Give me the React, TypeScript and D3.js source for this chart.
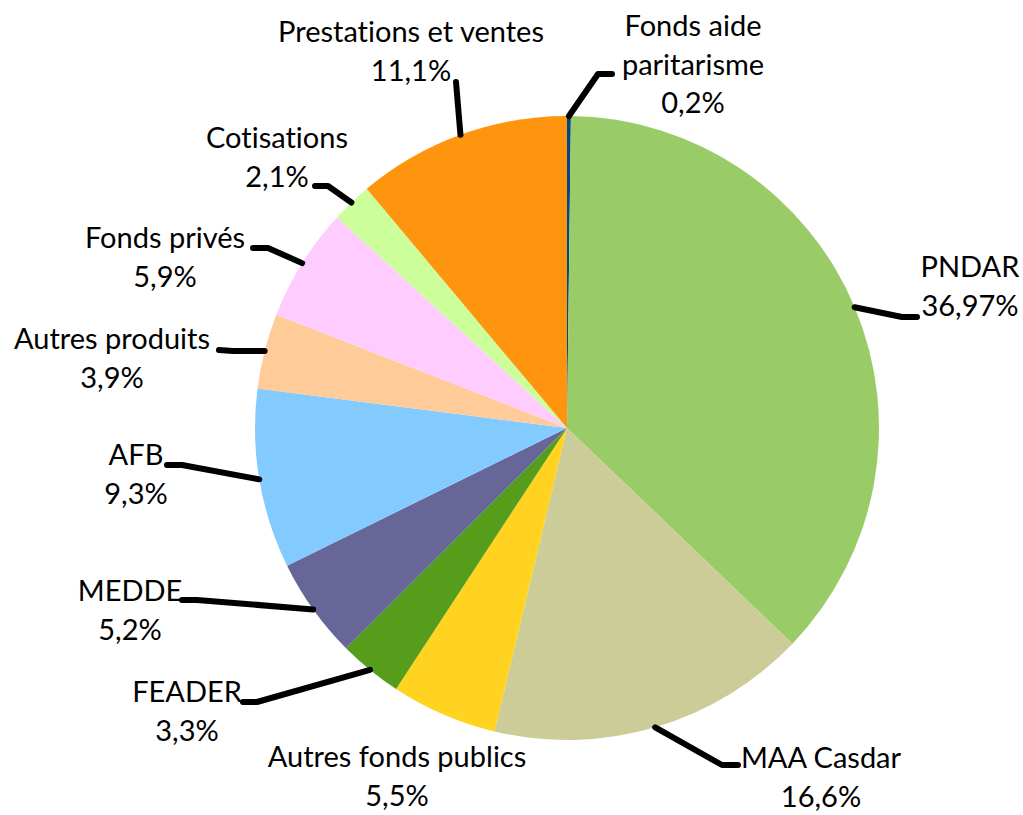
import React, { useEffect, useRef } from "react";
import * as d3 from "d3";

const categories = [
  "Fonds aide paritarisme",
  "PNDAR",
  "MAA Casdar",
  "Autres fonds publics",
  "FEADER",
  "MEDDE",
  "AFB",
  "Autres produits",
  "Fonds privés",
  "Cotisations",
  "Prestations et ventes",
];
const shares = [0.2, 36.97, 16.6, 5.5, 3.3, 5.2, 9.3, 3.9, 5.9, 2.1, 11.1];
const shareLabels = ["0,2%", "36,97%", "16,6%", "5,5%", "3,3%", "5,2%", "9,3%", "3,9%", "5,9%", "2,1%", "11,1%"];
const colors = [
  "#004586", "#99cc66", "#cccc99", "#ffd320", "#579d1c", "#666699",
  "#83caff", "#ffcc99", "#ffccff", "#ccff99", "#ff950e",
];

// label layout: text lines, text center x, first baseline y, leader elbow + end (null = no leader)
const labelLayout: { lines: string[]; x: number; y: number; elbow: [number, number] | null; end: [number, number] | null }[] = [
  { lines: ["Fonds aide", "paritarisme"], x: 693, y: 36, elbow: [598, 74], end: [612, 74] },
  { lines: ["PNDAR"], x: 970, y: 277, elbow: [902, 317], end: [917, 317] },
  { lines: ["MAA Casdar"], x: 821, y: 768, elbow: [722, 765], end: [738, 765] },
  { lines: ["Autres fonds publics"], x: 397, y: 767, elbow: null, end: null },
  { lines: ["FEADER"], x: 187, y: 702, elbow: [257, 702], end: [243, 702] },
  { lines: ["MEDDE"], x: 130, y: 601, elbow: [197, 600], end: [182, 600] },
  { lines: ["AFB"], x: 136, y: 465, elbow: [182, 465], end: [167, 465] },
  { lines: ["Autres produits"], x: 112, y: 349, elbow: [233, 351], end: [219, 350] },
  { lines: ["Fonds privés"], x: 165, y: 248, elbow: [268, 248], end: [253, 248] },
  { lines: ["Cotisations"], x: 277, y: 148, elbow: [328, 186], end: [315, 186] },
  { lines: ["Prestations et ventes"], x: 411, y: 42, elbow: [456, 82], end: [456, 82] },
];

const W = 1023;
const H = 815;
const cx = 567;
const cy = 428;
const radius = 312;
const lineGap = 38.5;

const App = () => {
  const ref = useRef<SVGSVGElement>(null);

  useEffect(() => {
    document.body.style.margin = "0";
    const svg = d3.select(ref.current);
    svg.selectAll("*").remove();

    const data = categories.map((c, i) => ({ label: c, value: shares[i], i }));
    const pie = d3.pie<any>().sort(null).value((d) => d.value);
    const arcs = pie(data);
    const arc = d3.arc<any>().innerRadius(0).outerRadius(radius);

    const g = svg.append("g").attr("transform", `translate(${cx},${cy})`);
    g.selectAll("path")
      .data(arcs)
      .enter()
      .append("path")
      .attr("d", arc)
      .attr("fill", (d) => colors[d.data.i]);

    // leader lines
    arcs.forEach((d) => {
      const lay = labelLayout[d.data.i];
      if (!lay.elbow || !lay.end) return;
      const mid = (d.startAngle + d.endAngle) / 2;
      const sx = cx + radius * Math.sin(mid);
      const sy = cy - radius * Math.cos(mid);
      svg
        .append("path")
        .attr("d", d3.line()([[sx, sy], lay.elbow, lay.end]))
        .attr("fill", "none")
        .attr("stroke", "#000")
        .attr("stroke-width", 6)
        .attr("stroke-linecap", "round")
        .attr("stroke-linejoin", "round");
    });

    // labels
    labelLayout.forEach((lay, i) => {
      const t = svg
        .append("text")
        .attr("text-anchor", "middle")
        .style("font-family", "Lato, 'Open Sans', sans-serif")
        .style("font-size", "29px")
        .style("font-variant-ligatures", "none")
        .attr("fill", "#000");
      const lines = [...lay.lines, shareLabels[i]];
      lines.forEach((ln, k) => {
        t.append("tspan").attr("x", lay.x).attr("y", lay.y + k * lineGap).text(ln);
      });
    });
  }, []);

  return <svg ref={ref} width={W} height={H} style={{ display: "block", background: "#fff" }} />;
};

export default App;
